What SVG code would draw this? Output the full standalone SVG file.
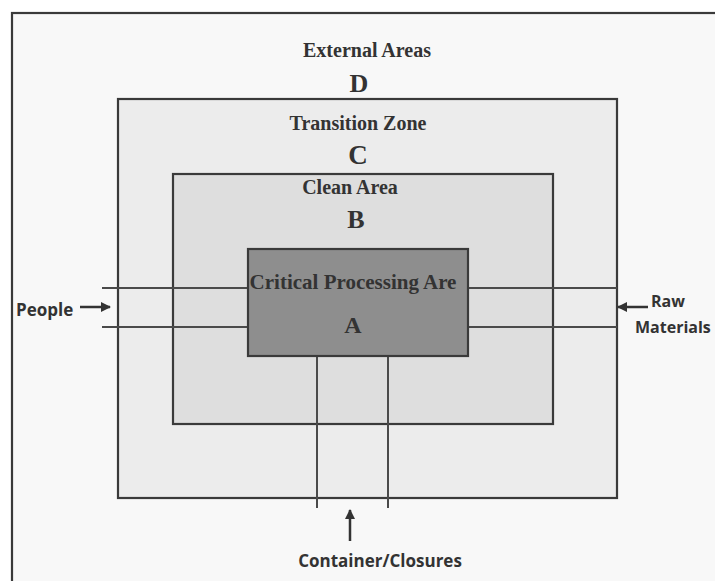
<svg xmlns="http://www.w3.org/2000/svg" width="715" height="581" viewBox="0 0 715 581">
<defs>
<style>
.zone{stroke:#3a3a3a;stroke-width:2.2}
.ser{font-family:"Liberation Serif","Times New Roman",serif;font-weight:bold;fill:#333;text-anchor:middle}
.san{font-family:"Open Sans","Noto Sans",sans-serif;font-weight:bold;fill:#333}
.con{stroke:#4a4a4a;stroke-width:2;fill:none}
.arr{stroke:#333;stroke-width:2.5;fill:none}
</style>
<marker id="ah" viewBox="0 0 10 10" refX="9" refY="5" markerWidth="4" markerHeight="4" orient="auto" markerUnits="strokeWidth">
<path d="M0,0 L10,5 L0,10 Z" fill="#333"/>
</marker>
</defs>
<rect width="715" height="581" fill="#ffffff"/>
<g id="zoneD">
<rect class="zone" x="12" y="13" width="720" height="600" fill="#f8f8f8" stroke-width="2.6"/>
<text class="ser" x="367" y="57" font-size="20">External Areas</text>
<text class="ser" x="359" y="92" font-size="26">D</text>
</g>
<g id="zoneC">
<rect class="zone" x="118" y="99" width="499" height="399" fill="#ececec"/>
<text class="ser" x="358" y="130" font-size="20">Transition Zone</text>
<text class="ser" x="358" y="164" font-size="27">C</text>
</g>
<g id="zoneB">
<rect class="zone" x="173" y="174" width="380" height="250" fill="#dedede"/>
<text class="ser" x="350" y="194" font-size="20">Clean Area</text>
<text class="ser" x="356" y="228" font-size="26">B</text>
</g>
<g id="connectors">
<line class="con" x1="102" y1="288" x2="617" y2="288"/>
<line class="con" x1="102" y1="327" x2="617" y2="327"/>
<line class="con" x1="317" y1="356" x2="317" y2="508"/>
<line class="con" x1="388" y1="356" x2="388" y2="508"/>
<line class="arr" x1="80" y1="307" x2="110" y2="307" marker-end="url(#ah)"/>
<line class="arr" x1="648" y1="307" x2="618" y2="307" marker-end="url(#ah)"/>
<line class="arr" x1="350" y1="541" x2="350" y2="510" marker-end="url(#ah)"/>
</g>
<g id="zoneA">
<rect class="zone" x="248" y="249" width="220" height="107" fill="#8e8e8e"/>
<text class="ser" x="353" y="289" font-size="21" fill="#3a3a3a">Critical Processing Are</text>
<text class="ser" x="353" y="333" font-size="24" fill="#3a3a3a">A</text>
</g>
<g id="people">
<text class="san" x="16" y="316" font-size="17">People</text>
</g>
<g id="raw-materials">
<text class="san" x="651" y="307" font-size="16">Raw</text>
<text class="san" x="635" y="333" font-size="16">Materials</text>
</g>
<g id="containers">
<text class="san" x="380" y="567" font-size="17" text-anchor="middle">Container/Closures</text>
</g>
</svg>
